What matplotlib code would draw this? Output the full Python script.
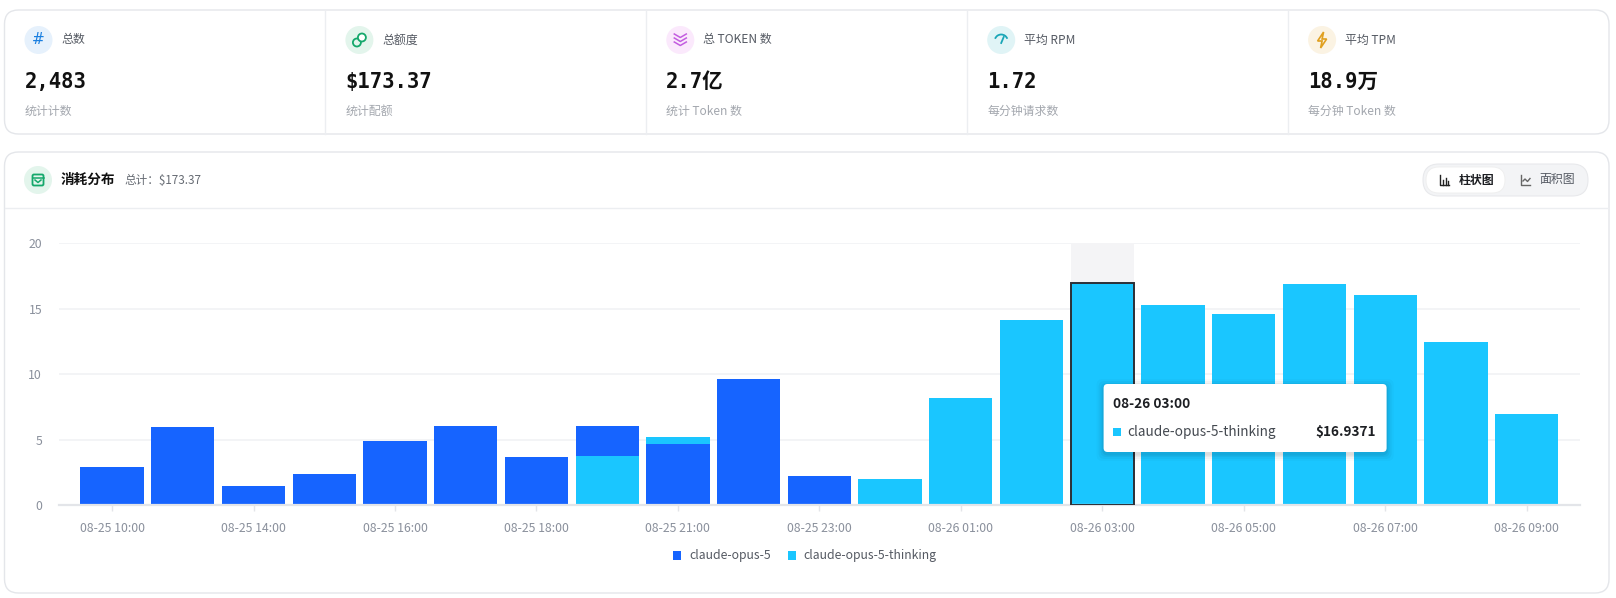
import matplotlib
matplotlib.use("Agg")
import matplotlib.pyplot as plt
from matplotlib.patches import FancyBboxPatch, Circle, Rectangle, Polygon, Arc
import numpy as np

plt.rcParams['font.family'] = ['Noto Sans CJK SC', 'DejaVu Sans']

# ---------------- data ----------------
categories = ["08-25 10:00", "08-25 12:00", "08-25 14:00", "08-25 15:00", "08-25 16:00",
              "08-25 17:00", "08-25 18:00", "08-25 20:00", "08-25 21:00", "08-25 22:00",
              "08-25 23:00", "08-26 00:00", "08-26 01:00", "08-26 02:00", "08-26 03:00",
              "08-26 04:00", "08-26 05:00", "08-26 06:00", "08-26 07:00", "08-26 08:00",
              "08-26 09:00"]
series_names = ["claude-opus-5", "claude-opus-5-thinking"]
opus5 = [2.88, 5.94, 1.43, 2.34, 4.89, 6.04, 3.64, 2.24, 4.69, 9.60,
         2.19, 0, 0, 0, 0, 0, 0, 0, 0, 0, 0]
opus5_thinking = [0, 0, 0, 0, 0, 0, 0, 3.77, 0.53, 0,
                  0, 1.99, 8.20, 14.14, 16.9371, 15.31, 14.60, 16.89, 16.03, 12.43, 6.98]
y_ticks = [0, 5, 10, 15, 20]
highlight_index = 14

stat_labels = ["总数", "总额度", "总 TOKEN 数", "平均 RPM", "平均 TPM"]
stat_values = ["2,483", "$173.37", "2.7亿", "1.72", "18.9万"]
stat_subs = ["统计计数", "统计配额", "统计 Token 数", "每分钟请求数", "每分钟 Token 数"]
total_text = "总计：$173.37"

colors = ["#1664FF", "#1AC6FF"]

W, H = 1616, 598
fig = plt.figure(figsize=(W / 100, H / 100), dpi=100)
fig.patch.set_facecolor("white")
bg = fig.add_axes([0, 0, 1, 1])
bg.set_xlim(0, W)
bg.set_ylim(H, 0)
bg.axis("off")

def card(x0, y0, x1, y1):
    bg.add_patch(FancyBboxPatch((x0, y0), x1 - x0, y1 - y0,
                                boxstyle="round,pad=0,rounding_size=14",
                                fc="white", ec="#e4e6ea", lw=1.0))

# ---------------- top stat card ----------------
card(4.5, 10, 1609, 134)
col_w = (1609 - 4.5) / 5
icon_bg = ["#e6f1fc", "#e3f5ec", "#fbe9fc", "#e0f4f6", "#fbf3e3"]
icon_fg = ["#1a7fe0", "#14a86b", "#c35ce0", "#1aa6b7", "#e0a020"]
mono = ['DejaVu Sans Mono', 'Noto Sans CJK SC']
for k in range(5):
    sx = 4.5 + k * col_w
    if k > 0:
        bg.plot([sx, sx], [10.5, 133.5], color="#eceef1", lw=1.0)
    cx, cy = sx + 34, 40
    bg.add_patch(Circle((cx, cy), 14, fc=icon_bg[k], ec="none"))
    c = icon_fg[k]
    if k == 0:
        bg.text(cx, cy, "#", color=c, fontsize=11, ha="center", va="center",
                family=['DejaVu Sans'])
    elif k == 1:
        bg.add_patch(Circle((cx - 2.5, cy + 2.5), 4, fc="none", ec=c, lw=1.3))
        bg.add_patch(Circle((cx + 2.5, cy - 2.5), 4, fc="white", ec=c, lw=1.3))
    elif k == 2:
        for dy in (-4, 0, 4):
            bg.plot([cx - 6, cx, cx + 6], [cy + dy - 2, cy + dy + 1.5, cy + dy - 2],
                    color=c, lw=1.1)
    elif k == 3:
        bg.add_patch(Arc((cx, cy + 1), 13, 13, theta1=200, theta2=340, color=c, lw=1.3))
        bg.plot([cx, cx + 2.5], [cy + 3, cy - 3], color=c, lw=1.3)
    elif k == 4:
        bg.add_patch(Polygon([(cx + 1.5, cy - 8), (cx - 4.5, cy + 1), (cx, cy + 1),
                              (cx - 1.5, cy + 8), (cx + 4.5, cy - 1), (cx, cy - 1)],
                             closed=True, fc="none", ec=c, lw=1.2))
    bg.text(sx + 57, 40, stat_labels[k], fontsize=8.6, color="#555a63", va="center", ha="left")
    bg.text(sx + 20, 82, stat_values[k], fontsize=14.8, fontweight="bold", color="#111111",
            va="center", ha="left", family=mono)
    bg.text(sx + 20, 111, stat_subs[k], fontsize=8.6, color="#a3a7ae", va="center", ha="left")

# ---------------- chart card ----------------
card(4.5, 152, 1609, 593)
bg.plot([5, 1608], [208, 208], color="#eceef1", lw=1.0)
bg.add_patch(Circle((38, 180), 14, fc="#e3f5ec", ec="none"))
bg.add_patch(FancyBboxPatch((32.5, 174.5), 11, 11, boxstyle="round,pad=0,rounding_size=1.5",
                            fc="none", ec="#14a86b", lw=1.3))
bg.plot([32.5, 43.5], [178, 178], color="#14a86b", lw=1.1)
bg.plot([35, 38, 41], [180, 182.5, 180], color="#14a86b", lw=1.1)
bg.text(61, 180, "消耗分布", fontsize=9.8, fontweight="bold", color="#111111", va="center")
bg.text(124, 180, total_text, fontsize=8.4, color="#666b73", va="center")

# toggle group
bg.add_patch(FancyBboxPatch((1423, 164), 165, 32, boxstyle="round,pad=0,rounding_size=16",
                            fc="#f3f4f6", ec="#e8e9ec", lw=0.8))
bg.add_patch(FancyBboxPatch((1426, 167), 79, 26, boxstyle="round,pad=0,rounding_size=13",
                            fc="white", ec="#eeeeee", lw=0.6))
ix, iy = 1440, 180
bg.plot([ix, ix, ix + 9], [iy - 5, iy + 5, iy + 5], color="#222", lw=1.0)
for dx, hh in ((3, 5), (5.5, 7), (8, 4)):
    bg.plot([ix + dx, ix + dx], [iy + 5, iy + 5 - hh], color="#222", lw=1.0)
bg.text(1459, 180, "柱状图", fontsize=8.6, color="#1d1f23", va="center", ha="left",
        fontweight="bold")
ix2 = 1521
bg.plot([ix2, ix2, ix2 + 9], [iy - 5, iy + 5, iy + 5], color="#666", lw=1.0)
bg.plot([ix2 + 2, ix2 + 4, ix2 + 6.5, ix2 + 9], [iy + 1, iy - 1, iy + 1.5, iy - 1.5],
        color="#666", lw=1.0)
bg.text(1539, 180, "面积图", fontsize=8.6, color="#555a63", va="center", ha="left")

# ---------------- bar chart ----------------
left, right, top, bottom = 58.7, 1580, 243.3, 505
ax = fig.add_axes([left / W, 1 - bottom / H, (right - left) / W, (bottom - top) / H])
ax.set_facecolor("none")
x = np.arange(len(categories))
ax.set_xlim(-0.755, len(categories) - 1 + 0.755)
ax.set_ylim(0, 20)
for s in ("top", "right", "left"):
    ax.spines[s].set_visible(False)
ax.spines["bottom"].set_color("#e3e5e9")
ax.spines["bottom"].set_linewidth(1.6)
ax.set_yticks(y_ticks)
ax.set_yticklabels([str(v) for v in y_ticks], fontsize=8.8, color="#8a909c")
ax.tick_params(axis="y", length=0, pad=12)
for v in y_ticks[1:]:
    ax.axhline(v, color="#f1f2f5", lw=1.2, zorder=0)
ax.set_xticks(x[::2])
ax.set_xticklabels(categories[::2], fontsize=8.8, color="#8a909c")
ax.tick_params(axis="x", length=4, color="#e3e5e9", width=1, pad=8)

bw = 0.895
# highlight band behind hovered bar
ax.bar(x[highlight_index], 20, width=bw, color="#f4f4f6", zorder=1)
vals = [opus5, opus5_thinking]
for i in range(len(categories)):
    order = sorted(range(2), key=lambda s: -vals[s][i])
    base = 0
    for s in order:
        v = vals[s][i]
        if v <= 0:
            continue
        ax.bar(x[i], v, bottom=base, width=bw, color=colors[s], zorder=2, linewidth=0)
        base += v
hv = opus5[highlight_index] + opus5_thinking[highlight_index]
ax.bar(x[highlight_index], hv, width=bw, fc="none", ec="#2b2f36", lw=1.4, zorder=3)

# overlay (legend + tooltip) on top of chart
ov = fig.add_axes([0, 0, 1, 1])
ov.set_xlim(0, W)
ov.set_ylim(H, 0)
ov.axis("off")
ov.patch.set_alpha(0)

ly = 555
ov.add_patch(Rectangle((673, ly - 4.5), 8, 9, fc=colors[0], ec="none"))
ov.text(689, ly, series_names[0], fontsize=8.8, color="#555a63", va="center", ha="left")
ov.add_patch(Rectangle((788, ly - 4.5), 8, 9, fc=colors[1], ec="none"))
ov.text(803, ly, series_names[1], fontsize=8.8, color="#555a63", va="center", ha="left")

# tooltip
for d, a in ((7, 0.02), (5, 0.03), (3, 0.04), (1.5, 0.05)):
    ov.add_patch(FancyBboxPatch((1103.6 - d, 384 - d + 2), 283 + 2 * d, 68 + 2 * d,
                                boxstyle="round,pad=0,rounding_size=6",
                                fc="black", ec="none", alpha=a))
ov.add_patch(FancyBboxPatch((1103.6, 384), 283, 68, boxstyle="round,pad=0,rounding_size=4",
                            fc="white", ec="none"))
ov.text(1113, 404, categories[highlight_index], fontsize=9.8, fontweight="bold",
        color="#1d1f23", va="center", ha="left")
ov.add_patch(Rectangle((1113, 428), 8, 8, fc=colors[1], ec="none"))
ov.text(1127, 432, series_names[1], fontsize=9.8, color="#444950", va="center", ha="left")
ov.text(1376, 432, "$%.4f" % opus5_thinking[highlight_index], fontsize=9.8,
        fontweight="bold", color="#1d1f23", va="center", ha="right")

fig.savefig("out.png", dpi=100, facecolor="white")
